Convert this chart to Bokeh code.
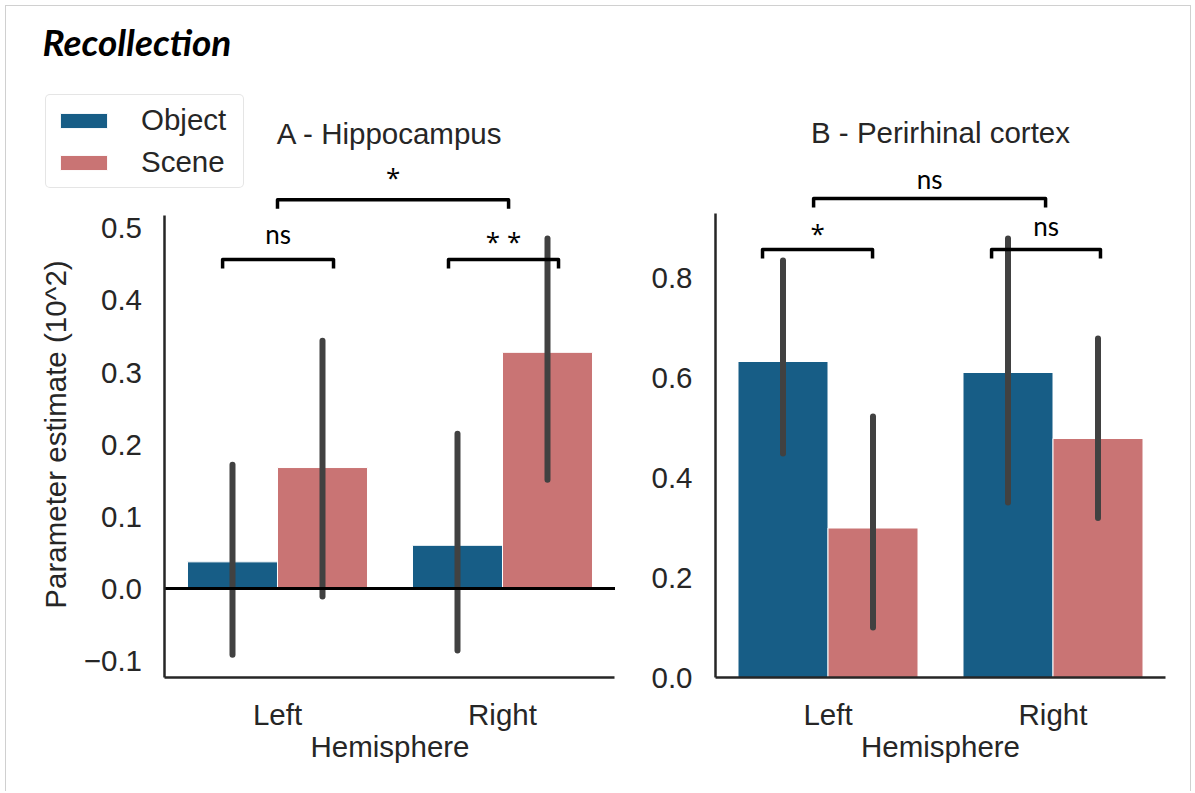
import math
from bokeh.plotting import figure
from bokeh.models import (ColumnDataSource, Range1d, FixedTicker, LinearAxis,
                          Legend, LegendItem)
from bokeh.transform import dodge
from bokeh.layouts import row
from bokeh.embed import file_html
from bokeh.resources import INLINE
from bokeh.core.properties import value

# ---------------- data ----------------
hemispheres = ["Left", "Right"]
conditions = ["Object", "Scene"]

hippo_object = [0.037, 0.060]
hippo_object_lo = [-0.092, -0.086]
hippo_object_hi = [0.172, 0.215]
hippo_scene = [0.168, 0.328]
hippo_scene_lo = [-0.011, 0.151]
hippo_scene_hi = [0.344, 0.486]

peri_object = [0.632, 0.610]
peri_object_lo = [0.448, 0.350]
peri_object_hi = [0.834, 0.878]
peri_scene = [0.299, 0.478]
peri_scene_lo = [0.100, 0.319]
peri_scene_hi = [0.522, 0.678]

hippo_ticks = [-0.1, 0.0, 0.1, 0.2, 0.3, 0.4, 0.5]
hippo_tick_labels = ["\u22120.1", "0.0", "0.1", "0.2", "0.3", "0.4", "0.5"]
peri_ticks = [0.0, 0.2, 0.4, 0.6, 0.8]
peri_tick_labels = ["0.0", "0.2", "0.4", "0.6", "0.8"]

# significance brackets (x in hemisphere units: Left = 0, Right = 1)
hippo_br_x0 = [-0.244, 0.760, 0.000]
hippo_br_x1 = [0.249, 1.249, 1.027]
hippo_br_y = [0.457, 0.457, 0.540]
hippo_br_text = ["ns", "* *", "*"]

peri_br_x0 = [-0.291, 0.727, -0.064]
peri_br_x1 = [0.198, 1.211, 0.967]
peri_br_y = [0.856, 0.856, 0.958]
peri_br_text = ["*", "ns", "ns"]

main_title = "Recollection"
panel_titles = ["A - Hippocampus", "B - Perirhinal cortex"]
x_label = "Hemisphere"
y_label = "Parameter estimate (10^2)"

# ---------------- style ----------------
OBJ = "#175d86"
SCN = "#c97474"
ERR = "#414141"
TXT = "#262626"
FONTNAME = "Liberation Sans"
FONT = value(FONTNAME)
FS = "29.5px"
H = 785


def make_panel(width, xr, yr, px_per_unit, ybase, ytop, ticks, tick_labels,
               obj, obj_lo, obj_hi, scn, scn_lo, scn_hi, bx0, bx1, by, btxt, bgap,
               title, title_y, xlabel_y):
    p = figure(width=width, height=H, x_range=xr, y_range=yr, toolbar_location=None,
               output_backend="svg", title=None, x_axis_location=None,
               y_axis_location=None, min_border=0, min_border_left=0,
               min_border_right=0, min_border_top=0, min_border_bottom=0)
    p.outline_line_color = None
    p.background_fill_color = "white"
    p.border_fill_color = "white"
    p.xgrid.visible = False
    p.ygrid.visible = False

    pos = list(range(len(hemispheres)))
    src = ColumnDataSource(dict(pos=pos, hemi=hemispheres, obj=obj, obj_lo=obj_lo,
                                obj_hi=obj_hi, scn=scn, scn_lo=scn_lo, scn_hi=scn_hi))
    x_obj = dodge("pos", -0.2)
    x_scn = dodge("pos", 0.2)
    r_obj = p.vbar(x=x_obj, top="obj", bottom=0, width=0.4, source=src,
                   fill_color=OBJ, line_color="white", line_width=1)
    r_scn = p.vbar(x=x_scn, top="scn", bottom=0, width=0.4, source=src,
                   fill_color=SCN, line_color="white", line_width=1)
    p.segment(x0=x_obj, y0="obj_lo", x1=x_obj, y1="obj_hi", source=src,
              line_color=ERR, line_width=6, line_cap="round")
    p.segment(x0=x_scn, y0="scn_lo", x1=x_scn, y1="scn_hi", source=src,
              line_color=ERR, line_width=6, line_cap="round")

    # significance brackets
    tick_h = 9.0 / px_per_unit
    xs = [[a, a, b, b] for a, b in zip(bx0, bx1)]
    ys = [[y - tick_h, y, y, y - tick_h] for y in by]
    p.multi_line(xs=xs, ys=ys, line_color="black", line_width=3.5, line_join="round")
    fonts = ["Lato" if t == "ns" else "Open Sans" for t in btxt]
    bsrc = ColumnDataSource(dict(x=[(a + b) / 2 for a, b in zip(bx0, bx1)],
                                 y=[y + g / px_per_unit for y, g in zip(by, bgap)],
                                 text=btxt, font=fonts))
    p.text(x="x", y="y", text="text", text_font="font", source=bsrc,
           text_font_size="26px", text_color="black", text_align="center",
           text_baseline="middle")

    # panel title and x label (inside the frame)
    p.text(x=[0.5], y=[title_y], text=[title], text_font=FONT, text_font_size=FS,
           text_color=TXT, text_align="center", text_baseline="middle")
    p.text(x=[0.5], y=[xlabel_y], text=[x_label], text_font=FONT, text_font_size=FS,
           text_color=TXT, text_align="center", text_baseline="middle")

    common = dict(axis_line_color=TXT, axis_line_width=2.5, major_tick_line_color=None,
                  minor_tick_line_color=None, major_label_text_font=FONTNAME,
                  major_label_text_font_size=FS, major_label_text_color=TXT)
    yax = LinearAxis(fixed_location=-0.5, ticker=FixedTicker(ticks=ticks),
                     major_label_overrides={t: l for t, l in zip(ticks, tick_labels)},
                     bounds=(ybase, ytop), major_label_standoff=17, **common)
    p.add_layout(yax, "left")
    xax = LinearAxis(fixed_location=ybase, ticker=FixedTicker(ticks=pos),
                     major_label_overrides={i: h for i, h in zip(pos, hemispheres)},
                     bounds=(-0.5, len(hemispheres) - 0.5), major_label_standoff=14,
                     **common)
    p.add_layout(xax, "below")
    return p, r_obj, r_scn


# panel A: page x 6..630 ; panel B: page x 630..1190 ; frame page y 6..791
pA, a_obj, a_scn = make_panel(
    624, Range1d(-1.20444, 1.56889), Range1d(-0.28194, 0.80833), 720.0, -0.12361, 0.518,
    hippo_ticks, hippo_tick_labels, hippo_object, hippo_object_lo, hippo_object_hi,
    hippo_scene, hippo_scene_lo, hippo_scene_hi,
    hippo_br_x0, hippo_br_x1, hippo_br_y, hippo_br_text, [25, 18, 23],
    panel_titles[0], 0.6319, -0.2194)
pB, b_obj, b_scn = make_panel(
    560, Range1d(-0.87778, 1.61111), Range1d(-0.228, 1.342), 500.0, 0.0, 0.928,
    peri_ticks, peri_tick_labels, peri_object, peri_object_lo, peri_object_hi,
    peri_scene, peri_scene_lo, peri_scene_hi,
    peri_br_x0, peri_br_x1, peri_br_y, peri_br_text, [17, 23.5, 20],
    panel_titles[1], 1.09, -0.138)

# zero line in panel A
pA.segment(x0=[-0.5], y0=[0.0], x1=[1.5], y1=[0.0], line_color="black", line_width=3)

# y axis label and figure title (inside panel A's frame)
pA.text(x=[-0.9867], y=[0.2139], text=[y_label], angle=math.pi / 2, text_font=FONT,
        text_font_size=FS, text_color=TXT, text_align="center", text_baseline="middle")
pA.text(x=[-1.0444], y=[0.7597], text=[main_title], text_font=value("Lato"),
        text_font_style="bold italic", text_font_size="37px", text_color="black",
        text_align="left", text_baseline="middle")

legend = Legend(items=[LegendItem(label=conditions[0], renderers=[a_obj]),
                       LegendItem(label=conditions[1], renderers=[a_scn])],
                location=(39, 603), orientation="vertical",
                glyph_width=59, glyph_height=19, label_standoff=28, label_width=94,
                label_text_font=FONTNAME, label_text_font_size=FS,
                label_text_color=TXT, label_height=31, spacing=8, padding=8,
                margin=0, border_line_color="#cccccc", border_line_width=1.5,
                background_fill_color="white", background_fill_alpha=1.0)
try:
    legend.border_radius = 5
except Exception:
    pass
pA.add_layout(legend)

layout = row(pA, pB, styles={"margin-left": "5px", "margin-top": "5px",
                             "border-left": "1px solid #d0d0d0",
                             "border-top": "1px solid #d0d0d0",
                             "border-right": "1px solid #d0d0d0"})

open("out.html", "w").write(file_html(layout, INLINE))
